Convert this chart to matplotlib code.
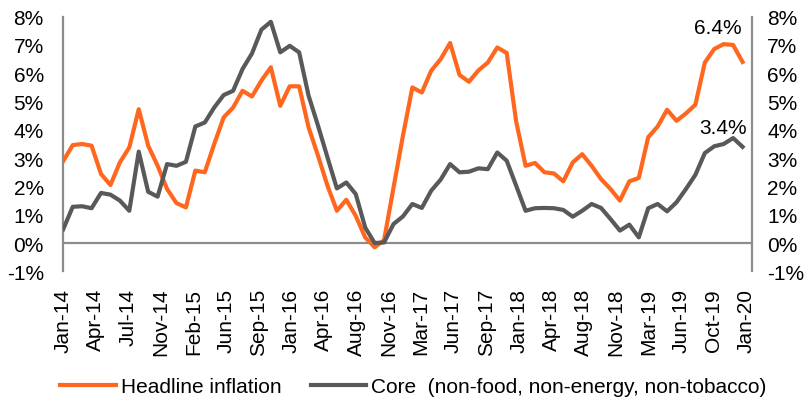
import numpy as np
import matplotlib
matplotlib.use("Agg")
from matplotlib import pyplot as plt
from matplotlib.ticker import FuncFormatter

plt.rcParams['font.family'] = ['Liberation Sans', 'DejaVu Sans']

# monthly, Jan-14 .. Jan-20 (73 points), % y/y
headline = [2.9, 3.46, 3.5, 3.44, 2.44, 2.05, 2.85, 3.38, 4.73, 3.44,
            2.73, 1.91, 1.41, 1.26, 2.56, 2.5, 3.5, 4.44, 4.79, 5.38,
            5.18, 5.74, 6.21, 4.85, 5.54, 5.54, 4.09, 3.09, 2.03, 1.14,
            1.53, 0.96, 0.2, -0.15, 0.1, 1.95, 3.79, 5.5, 5.32, 6.09,
            6.5, 7.07, 5.94, 5.7, 6.1, 6.38, 6.91, 6.72, 4.3, 2.73,
            2.83, 2.5, 2.46, 2.18, 2.85, 3.14, 2.73, 2.26, 1.91, 1.5,
            2.18, 2.3, 3.74, 4.12, 4.71, 4.32, 4.58, 4.89, 6.38, 6.86,
            7.03, 7.0, 6.4]
core = [0.49, 1.28, 1.3, 1.23, 1.77, 1.71, 1.5, 1.14, 3.23, 1.81,
        1.64, 2.79, 2.73, 2.87, 4.12, 4.26, 4.79, 5.23, 5.38, 6.15,
        6.7, 7.54, 7.82, 6.74, 6.97, 6.74, 5.21, 4.15, 3.03, 1.93,
        2.14, 1.73, 0.55, 0.0, 0.02, 0.67, 0.94, 1.38, 1.24, 1.85,
        2.24, 2.79, 2.5, 2.52, 2.64, 2.61, 3.2, 2.91, 2.03, 1.14,
        1.23, 1.24, 1.23, 1.17, 0.93, 1.14, 1.38, 1.24, 0.85, 0.44,
        0.65, 0.2, 1.23, 1.38, 1.12, 1.44, 1.91, 2.41, 3.18, 3.42,
        3.5, 3.71, 3.4]
tick_labels = ['Jan-14', 'Apr-14', 'Jul-14', 'Nov-14', 'Feb-15', 'Jun-15',
               'Sep-15', 'Jan-16', 'Apr-16', 'Aug-16', 'Nov-16', 'Mar-17',
               'Jun-17', 'Sep-17', 'Jan-18', 'Apr-18', 'Aug-18', 'Nov-18',
               'Mar-19', 'Jun-19', 'Oct-19', 'Jan-20']

orange = '#FF671F'
grey = '#595959'
axis_grey = '#8C8C8C'
fs = 15

x = np.arange(len(headline))

fig = plt.figure(figsize=(8.06, 4.02), dpi=100)
ax = fig.add_axes([0.0785, 0.3226, 0.8545, 0.6334])

ax.axhline(0, color=axis_grey, lw=1.6, zorder=1)
ax.plot(x, headline, color=orange, lw=3, label='Headline inflation', zorder=3)
ax.plot(x, core, color=grey, lw=3,
        label='Core  (non-food, non-energy, non-tobacco)', zorder=3)

ax.set_xlim(0, 73)
ax.set_ylim(-1, 8)
ax.set_yticks(range(-1, 9))
pct = FuncFormatter(lambda v, p: '%d%%' % v)
ax.yaxis.set_major_formatter(pct)
ax.set_xticks(np.linspace(0, 72.4, len(tick_labels)))
ax.set_xticklabels(tick_labels, rotation=90)
ax.tick_params(axis='y', length=0, pad=14, labelsize=fs)
ax.tick_params(axis='x', length=0, pad=12, labelsize=fs)

for s in ['top', 'bottom', 'right']:
    ax.spines[s].set_visible(False)
ax.spines['left'].set_color(axis_grey)
ax.spines['left'].set_linewidth(1.6)

ax2 = ax.twinx()
ax2.set_ylim(-1, 8)
ax2.set_yticks(range(-1, 9))
ax2.yaxis.set_major_formatter(pct)
ax2.tick_params(axis='y', length=0, pad=11, labelsize=fs)
for s in ['top', 'bottom', 'left']:
    ax2.spines[s].set_visible(False)
ax2.spines['right'].set_color(axis_grey)
ax2.spines['right'].set_linewidth(1.6)

ax.annotate('%.1f%%' % headline[-1], xy=(x[-1], headline[-1]),
            xytext=(-18, 25), textcoords='offset points',
            ha='center', va='center', fontsize=fs)
ax.annotate('%.1f%%' % core[-1], xy=(x[-1], core[-1]),
            xytext=(-14, 14), textcoords='offset points',
            ha='center', va='center', fontsize=fs)

fig.legend(loc='center', bbox_to_anchor=(0.513, 0.035), ncol=2, frameon=False,
           fontsize=fs, handlelength=2.65, handletextpad=0.25,
           columnspacing=1.4)

plt.savefig('out.png', dpi=100)
